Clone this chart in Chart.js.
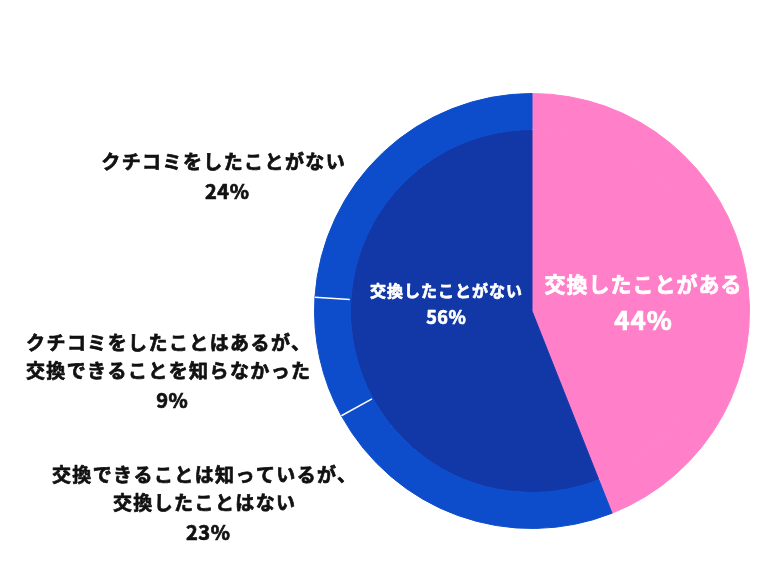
<!DOCTYPE html>
<html lang="ja">
<head>
    <meta charset="UTF-8">
    <title>交換経験</title>
    <script src="https://cdn.jsdelivr.net/npm/chart.js"></script>
    <style>
        html, body { margin: 0; padding: 0; background: #fff; }
    </style>
</head>
<body>
    <canvas id="myChart" width="760" height="570"></canvas>
    <script>
        // inner pie: 交換したことがある / ない
        const innerLabels = ['交換したことがある', '交換したことがない'];
        const innerValues = [44, 56];
        // outer ring, clockwise after the pink slice
        const ringLabels = [
            ['交換できることは知っているが、', '交換したことはない'],
            ['クチコミをしたことはあるが、', '交換できることを知らなかった'],
            ['クチコミをしたことがない']
        ];
        const ringValues = [23, 9, 24];

        const pink = '#ff7fc9';
        const ringBlue = '#0d4dcb';
        const innerBlue = '#1238a8';

        const font = '"Noto Sans CJK JP", "Noto Sans", sans-serif';

        // white separators only between ring segments (not on the pink edges)
        const separators = {
            id: 'separators',
            afterDatasetsDraw(chart) {
                const ctx = chart.ctx;
                const arcs = chart.getDatasetMeta(0).data;
                ctx.save();
                ctx.strokeStyle = '#ffffff';
                ctx.lineWidth = 1.5;
                for (let i = 2; i < arcs.length; i++) {
                    const a = arcs[i];
                    const ang = a.startAngle;
                    ctx.beginPath();
                    ctx.moveTo(a.x + Math.cos(ang) * (a.innerRadius + 1), a.y + Math.sin(ang) * (a.innerRadius + 1));
                    ctx.lineTo(a.x + Math.cos(ang) * a.outerRadius, a.y + Math.sin(ang) * a.outerRadius);
                    ctx.stroke();
                }
                ctx.restore();
            }
        };

        const labelsPlugin = {
            id: 'labels',
            afterDraw(chart) {
                const ctx = chart.ctx;
                const arc = chart.getDatasetMeta(0).data[0];
                const cx = arc.x, cy = arc.y;
                ctx.save();
                ctx.textAlign = 'center';
                ctx.textBaseline = 'middle';
                ctx.lineJoin = 'round';

                // bold text with a thin outline of the same colour to make it heavier
                function line(text, x, y, size, color, spacing) {
                    ctx.font = 'bold ' + size + 'px ' + font;
                    ctx.fillStyle = color;
                    ctx.strokeStyle = color;
                    ctx.lineWidth = 0.7;
                    ctx.letterSpacing = spacing + 'px';
                    ctx.fillText(text, x + spacing / 2, y);
                    ctx.strokeText(text, x + spacing / 2, y);
                }

                // inside the pie
                line(innerLabels[0], cx + 111, cy - 27, 21, '#ffffff', 1);
                line(innerValues[0] + '%', cx + 111, cy + 9, 26, '#ffffff', 1);
                line(innerLabels[1], cx - 86, cy - 20, 16, '#ffffff', 1);
                line(innerValues[1] + '%', cx - 86, cy + 6, 18, '#ffffff', 0.5);

                // ring labels on the left
                const pos = [
                    { x: cx - 328, y: cy + 164 },
                    { x: cx - 364, y: cy + 32 },
                    { x: cx - 309, y: cy - 149 }
                ];
                ringLabels.forEach((lines, i) => {
                    let y = pos[i].y;
                    lines.forEach(t => {
                        line(t, pos[i].x, y, 19, '#111111', 1.4);
                        y += 28;
                    });
                    line(ringValues[i] + '%', pos[i].x + 4, y + 1, 20, '#111111', 0.5);
                });
                ctx.restore();
            }
        };

        const ctx = document.getElementById('myChart').getContext('2d');
        new Chart(ctx, {
            type: 'pie',
            data: {
                labels: ['交換したことがある'].concat(ringLabels.map(l => l.join(''))),
                datasets: [
                    {
                        // outer ring
                        data: [innerValues[0]].concat(ringValues),
                        backgroundColor: [pink, ringBlue, ringBlue, ringBlue],
                        borderColor: [pink, ringBlue, ringBlue, ringBlue],
                        borderWidth: 1,
                        weight: 36
                    },
                    {
                        // inner pie
                        data: innerValues,
                        backgroundColor: [pink, innerBlue],
                        borderColor: [pink, innerBlue],
                        borderWidth: 1,
                        weight: 182
                    }
                ]
            },
            options: {
                responsive: false,
                animation: false,
                layout: {
                    padding: { left: 314, right: 10, top: 93, bottom: 41 }
                },
                plugins: {
                    legend: { display: false },
                    tooltip: { enabled: false }
                }
            },
            plugins: [separators, labelsPlugin]
        });
    </script>
</body>
</html>
